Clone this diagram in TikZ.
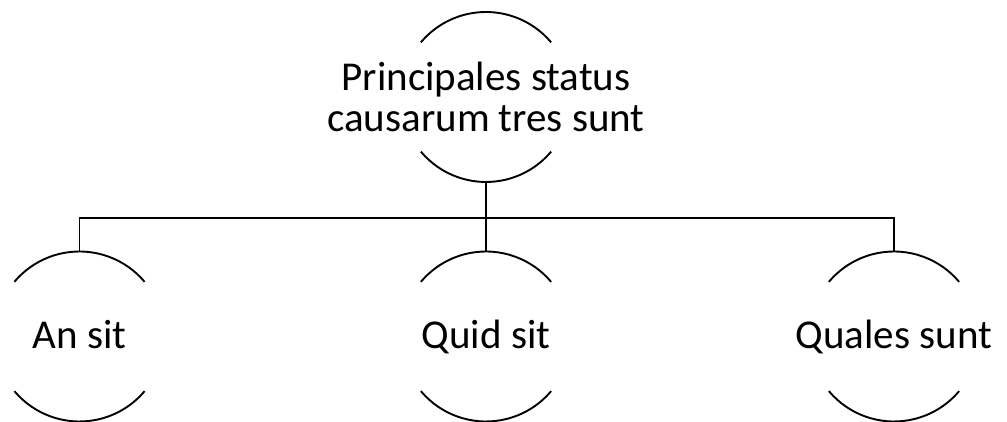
\documentclass[tikz,border=0pt]{standalone}
\usepackage{fontspec}
\setmainfont{Carlito}
\usetikzlibrary{positioning}

% two arcs of a circle, above and below the text of a node
\newcommand{\moonarcs}[1]{%
  \draw[moon] ([shift={(40:85pt)}]#1.center) arc[start angle=40,end angle=140,radius=85pt];
  \draw[moon] ([shift={(220:85pt)}]#1.center) arc[start angle=220,end angle=320,radius=85pt];
}

\begin{document}
\begin{tikzpicture}[
  x=1pt,y=1pt,
  font=\fontsize{41}{41}\selectfont,
  status/.style={rectangle,minimum height=170pt,inner sep=0pt,align=center},
  question/.style={status,text height=30pt,text depth=5pt},
  moon/.style={line width=1.9pt},
  link/.style={line width=1.9pt},
]
\useasboundingbox (0,0) rectangle (1007,422);

% ---- top: the main statement ----
\node[status] (main) at (486,325) {Principales status\\causarum tres sunt};

% ---- bottom: the three questions ----
\node[question] (ansit)   at (79.5,85.5) {An sit};
\node[question] (quidsit) at (486,85.5)  {Quid sit};
\node[question] (quales)  at (894,85.5)  {Quales sunt};

\moonarcs{main}
\moonarcs{ansit}
\moonarcs{quidsit}
\moonarcs{quales}

% ---- tree connectors ----
\coordinate (fork) at (486,204);
\draw[link] (main.south) -- (fork);
\draw[link] (ansit.north) |- (fork);
\draw[link] (quales.north) |- (fork);
\draw[link] (quidsit.north) -- (fork);

\end{tikzpicture}
\end{document}
